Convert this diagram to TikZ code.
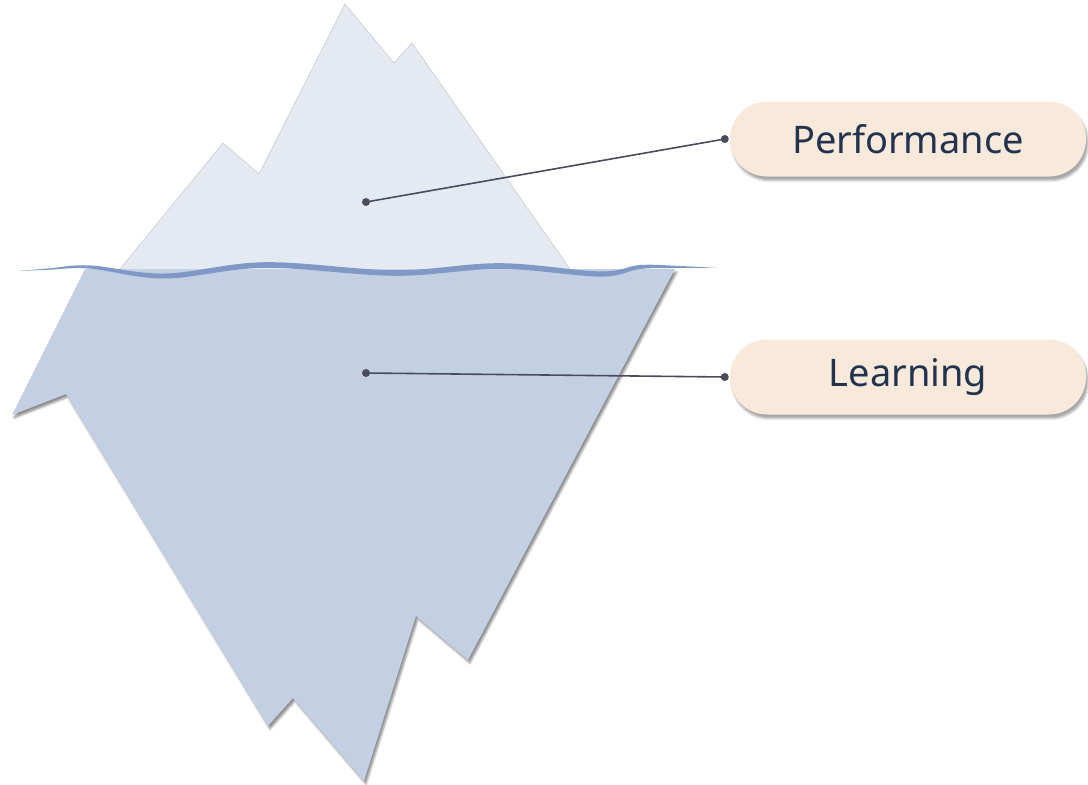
\documentclass[tikz,border=0pt]{standalone}
\usepackage{fontspec}
\setmainfont{Noto Sans}
\usetikzlibrary{positioning,shadows.blur}

\definecolor{icetop}{HTML}{E4E9F2}
\definecolor{icebelow}{HTML}{C3D0E3}
\definecolor{waterblue}{HTML}{7F98C6}
\definecolor{pillfill}{HTML}{F8E9DA}
\definecolor{labeltext}{HTML}{22334F}
\definecolor{leadercol}{HTML}{4A4B5C}

\tikzset{
  pill/.style={fill=pillfill, text=labeltext, rounded corners=37pt,
    minimum width=356pt, minimum height=75pt, font=\fontsize{38}{44}\selectfont,
    blur shadow={shadow xshift=2pt, shadow yshift=-4pt, shadow opacity=35}},
  leader/.style={draw=leadercol, line width=1.6pt},
  pin/.style={fill=leadercol}
}

\begin{document}
\begin{tikzpicture}[x=1pt, y=-1pt]
    \useasboundingbox (0, 0) rectangle (1088, 785);

    % draw part under water
    \fill[icebelow, blur shadow={shadow xshift=2pt, shadow yshift=-3pt, shadow opacity=45}]
        (85, 269) -- (675, 269) -- (468, 660) -- (416, 616) -- (364, 781)
        -- (293, 698) -- (268, 726) -- (66, 394) -- (12, 415) -- cycle;

    % draw part above water
    \filldraw[fill=icetop, draw=black!20, line width=0.6pt]
        (120, 269) -- (223, 143) -- (259, 174) -- (345, 4) -- (394, 63)
        -- (412, 43) -- (570, 269);

    % draw waterline
    \fill[waterblue]
        plot[smooth, tension=0.6] coordinates {(18, 271) (50, 268.3) (90, 265.4) (165, 273.5)
            (265, 262.2) (395, 270.2) (500, 263.2) (600, 271.4) (640, 265) (680, 266) (718, 268)}
        -- plot[smooth, tension=0.6] coordinates {(718, 268) (680, 268) (640, 269) (600, 276.6)
            (500, 268.8) (395, 275.8) (265, 267.8) (165, 278.5) (90, 268.6) (50, 269.7) (18, 271)}
        -- cycle;

    % draw labels
    \node[pill] (perf) at (908, 139) {Performance};
    \node[pill] (learn) at (908, 377) {Learning};

    % draw leaders
    \coordinate (tipdot) at (366, 202);
    \coordinate (basedot) at (366, 373);
    \coordinate (perfpin) at ([xshift=-5pt]perf.west);
    \coordinate (learnpin) at ([xshift=-5pt]learn.west);

    \draw[leader] (tipdot) -- (perfpin);
    \draw[leader] (basedot) -- (learnpin);
    \foreach \p in {tipdot, basedot, perfpin, learnpin}
        \fill[pin] (\p) circle (4pt);
\end{tikzpicture}
\end{document}
